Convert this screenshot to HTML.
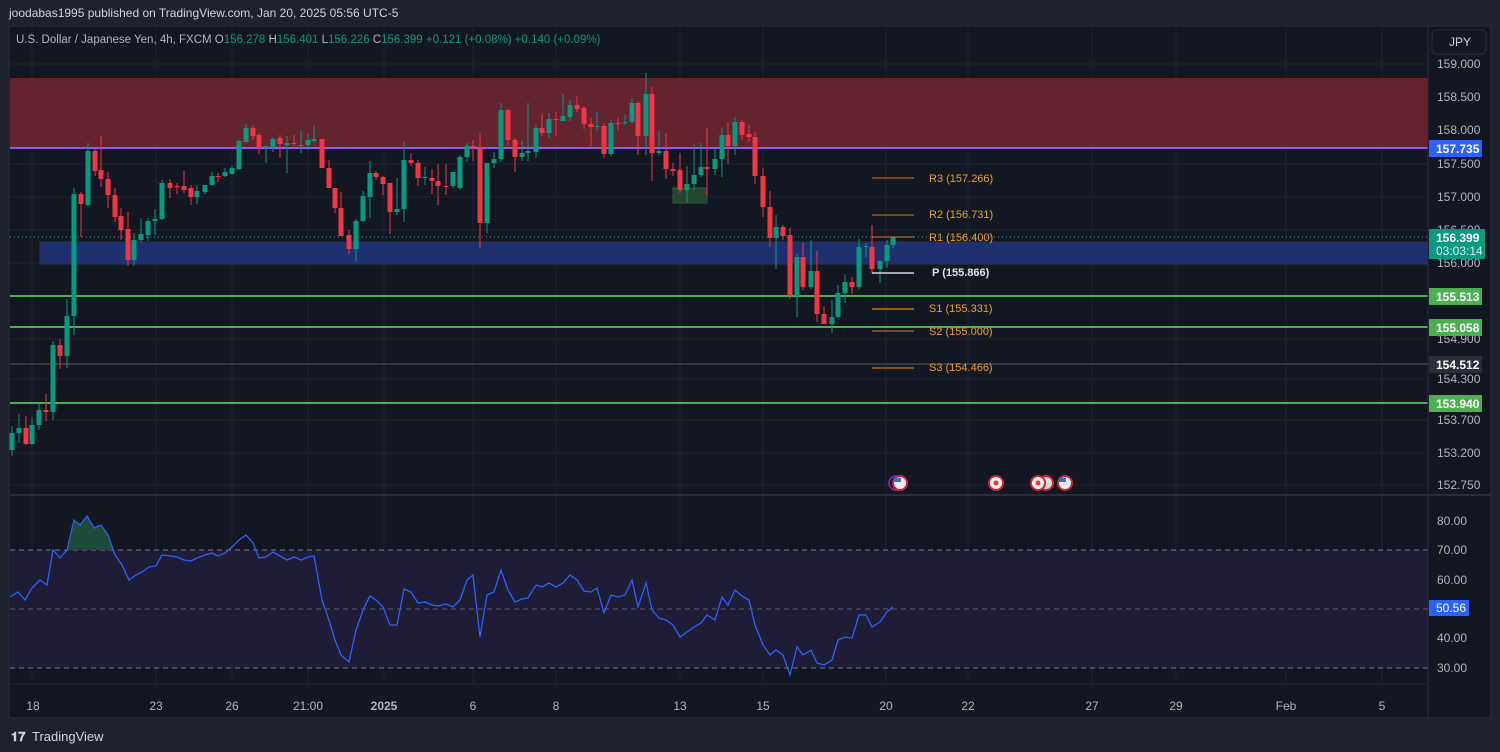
<!DOCTYPE html>
<html><head><meta charset="utf-8">
<style>
html,body{margin:0;padding:0;width:1500px;height:752px;overflow:hidden;background:#1e222d;font-family:"Liberation Sans",sans-serif;}
svg{position:absolute;left:0;top:0}
</style></head><body>
<svg id="s" width="1500" height="752" xmlns="http://www.w3.org/2000/svg" font-family="Liberation Sans, sans-serif">
<rect x="0" y="0" width="1500" height="752" fill="#1e222d"/>
<text x="9" y="17" fill="#d1d4dc" font-size="12">joodabas1995 published on TradingView.com, Jan 20, 2025 05:56 UTC-5</text>
<rect x="9" y="26" width="1482" height="692" fill="#131722" stroke="#2a2e39"/>
<g id="grid" stroke="#1f2330" stroke-width="1"></g>
<!-- zones -->
<rect x="10" y="78" width="1418" height="70" fill="#63232f"/>
<line x1="10" y1="148" x2="1428" y2="148" stroke="#8b5cf6" stroke-width="2"/>
<rect x="40" y="242" width="1388" height="22" fill="#1f3070" stroke="#2a3550"/>
<rect x="673" y="188" width="34" height="15" fill="#25462f" stroke="#2f5a38"/>
<line x1="10" y1="296" x2="1428" y2="296" stroke="#4caf50" stroke-width="2"/>
<line x1="10" y1="327" x2="1428" y2="327" stroke="#4caf50" stroke-width="2"/>
<line x1="10" y1="403" x2="1428" y2="403" stroke="#4caf50" stroke-width="2"/>
<line x1="10" y1="364" x2="1428" y2="364" stroke="#363a45" stroke-width="2"/>
<line x1="10" y1="237" x2="1428" y2="237" stroke="#26a69a" stroke-width="1" stroke-dasharray="1 3"/>
<g id="candles"></g>
<!-- pivots -->
<g font-size="11" fill="#f0a020">
<line x1="872" y1="178" x2="914" y2="178" stroke="#c9801f"/>
<line x1="872" y1="215" x2="914" y2="215" stroke="#c9801f"/>
<line x1="872" y1="237" x2="914" y2="237" stroke="#c9801f"/>
<line x1="872" y1="273" x2="914" y2="273" stroke="#d1d4dc" stroke-width="1.5"/>
<line x1="872" y1="309" x2="914" y2="309" stroke="#9c5c10" stroke-width="2"/>
<line x1="872" y1="331" x2="914" y2="331" stroke="#c9801f"/>
<line x1="872" y1="368" x2="914" y2="368" stroke="#f08c00"/>
<text x="929" y="182">R3 (157.266)</text>
<text x="929" y="218">R2 (156.731)</text>
<text x="929" y="241">R1 (156.400)</text>
<text x="932" y="276" fill="#e0e3eb" font-weight="bold">P (155.866)</text>
<text x="929" y="312">S1 (155.331)</text>
<text x="929" y="335">S2 (155.000)</text>
<text x="929" y="371">S3 (154.466)</text>
</g>
<!-- events -->
<g>
<circle cx="896" cy="483" r="7" fill="none" stroke="#9c27b0" stroke-width="1.5"/>
<circle cx="900" cy="483" r="8" fill="#c62838"/><circle cx="900" cy="483" r="6" fill="#e8eaf0"/><rect x="894" y="478" width="7" height="4" fill="#3b6fd8"/>
<circle cx="996" cy="483" r="8" fill="#c62838"/><circle cx="996" cy="483" r="6" fill="#f0f0f0"/><circle cx="996" cy="483" r="2.5" fill="#e53935"/>
<circle cx="1046" cy="483" r="8" fill="#c62838"/><circle cx="1046" cy="483" r="6" fill="#ddd"/>
<circle cx="1038" cy="483" r="8" fill="#c62838"/><circle cx="1038" cy="483" r="6" fill="#f0f0f0"/><circle cx="1038" cy="483" r="2.5" fill="#e53935"/>
<circle cx="1065" cy="483" r="8" fill="#c62838"/><circle cx="1065" cy="483" r="6" fill="#e8eaf0"/><rect x="1059" y="478" width="7" height="4" fill="#3b6fd8"/>
</g>
<text x="16" y="43" font-size="11.5" fill="#b2b5be">U.S. Dollar / Japanese Yen, 4h, FXCM <tspan>O</tspan><tspan fill="#089981">156.278</tspan> <tspan>H</tspan><tspan fill="#089981">156.401</tspan> <tspan>L</tspan><tspan fill="#089981">156.226</tspan> <tspan>C</tspan><tspan fill="#089981">156.399  +0.121 (+0.08%)  +0.140 (+0.09%)</tspan></text>
<!-- pane separator -->
<line x1="9" y1="495" x2="1491" y2="495" stroke="#2a2e39" stroke-width="2"/>
<!-- RSI -->
<rect x="10" y="550" width="1418" height="118" fill="#1f1c35"/>
<line x1="10" y1="550" x2="1428" y2="550" stroke="#787b86" stroke-dasharray="5 4"/>
<line x1="10" y1="609" x2="1428" y2="609" stroke="#5d606b" stroke-dasharray="5 4"/>
<line x1="10" y1="668" x2="1428" y2="668" stroke="#787b86" stroke-dasharray="5 4"/>
<path d="M67,550 L74,520 L80,525 L87,516 L94,528 L101,525 L108,535 L113,550 Z" fill="#1d4a3a"/>
<polyline id="rsi" fill="none" stroke="#2962ff" stroke-width="1.3"/>
<!-- right axis -->
<line x1="1428" y1="26" x2="1428" y2="718" stroke="#2a2e39"/>
<rect x="1432" y="30" width="54" height="24" rx="4" fill="#131722" stroke="#2a2e39"/>
<text x="1449" y="46" font-size="12" fill="#d1d4dc">JPY</text>
<g id="axis" font-size="12" fill="#b2b5be"></g>
<g font-size="12" font-weight="bold" fill="#fff">
<rect x="1429" y="140" width="53" height="17" fill="#2962ff"/><text x="1436" y="153">157.735</text>
<rect x="1429" y="229" width="56" height="30" fill="#089981"/><text x="1436" y="242">156.399</text><text x="1436" y="255" font-weight="normal" fill="#d8f0ec">03:03:14</text>
<rect x="1429" y="288" width="53" height="17" fill="#4caf50"/><text x="1436" y="301">155.513</text>
<rect x="1429" y="319" width="53" height="17" fill="#4caf50"/><text x="1436" y="332">155.058</text>
<rect x="1429" y="356" width="53" height="17" fill="#2a2e39"/><text x="1436" y="369">154.512</text>
<rect x="1429" y="395" width="53" height="17" fill="#4caf50"/><text x="1436" y="408">153.940</text>
<rect x="1429" y="600" width="40" height="16" fill="#2962ff"/><text x="1436" y="612" font-weight="normal">50.56</text>
</g>
<g id="xaxis" font-size="12" fill="#b2b5be" text-anchor="middle"></g>
<line x1="9" y1="684" x2="1428" y2="684" stroke="#1f2330"/>
<text x="11" y="741" font-size="13" fill="#d1d4dc" font-weight="bold">𝟏𝟕</text>
<text x="32" y="741" font-size="13" fill="#d1d4dc">TradingView</text>
</svg>
<script>
var NS="http://www.w3.org/2000/svg";
function el(p,t,a,txt){var e=document.createElementNS(NS,t);for(var k in a)e.setAttribute(k,a[k]);if(txt)e.textContent=txt;document.getElementById(p).appendChild(e);return e;}
// grid
var vx=[32,156,232,308,384,473,556,680,763,886,968,1092,1176,1286,1382];
vx.forEach(function(x){el("grid","line",{x1:x,y1:26,x2:x,y2:684});});
var hy=[[64,"159.000"],[97,"158.500"],[130,"158.000"],[164,"157.500"],[197,"157.000"],[230,"156.500"],[263,"156.000"],[339,"154.900"],[379,"154.300"],[420,"153.700"],[453,"153.200"],[485,"152.750"]];
hy.forEach(function(h){el("grid","line",{x1:10,y1:h[0],x2:1428,y2:h[0]});el("axis","text",{x:1437,y:h[0]+4},h[1]);});
[[521,"80.00"],[550,"70.00"],[580,"60.00"],[638,"40.00"],[668,"30.00"]].forEach(function(h){el("axis","text",{x:1437,y:h[0]+4},h[1]);});
[[33,"18"],[156,"23"],[232,"26"],[308,"21:00"],[384,"2025"],[473,"6"],[556,"8"],[680,"13"],[763,"15"],[886,"20"],[968,"22"],[1092,"27"],[1176,"29"],[1286,"Feb"],[1382,"5"]].forEach(function(t){el("xaxis","text",{x:t[0],y:710,"font-weight":t[1]=="2025"?"bold":"normal"},t[1]);});
// candles [x,o,c,h,l]
var C=[[12,450,433,426,456],[19,433,428,414,443],[26,428,444,416,445],[32,444,425,417,445],[39,425,410,404,430],[46,410,412,394,421],[53,412,345,341,420],[60,345,356,339,369],[67,356,316,299,368],[74,316,194,188,335],[81,194,204,192,237],[88,205,151,143,206],[95,151,171,149,176],[101,170,179,136,187],[108,179,195,172,208],[115,195,217,188,222],[121,216,230,208,240],[128,229,260,212,266],[134,260,240,233,266],[141,240,234,218,242],[148,235,221,218,241],[155,221,219,209,235],[162,219,183,180,220],[170,183,188,179,198],[177,186,187,183,194],[184,186,190,171,193],[191,188,197,185,205],[197,197,191,185,204],[205,192,185,185,194],[212,185,176,172,186],[218,176,177,173,182],[225,176,172,168,177],[232,174,168,166,175],[239,169,141,140,170],[246,142,128,124,142],[253,128,136,125,140],[259,135,148,133,154],[266,148,146,146,163],[273,147,139,137,152],[280,138,144,135,158],[287,145,143,136,173],[294,143,144,135,146],[301,146,145,131,153],[308,145,140,133,150],[314,141,139,126,143],[322,139,168,139,168],[329,168,188,160,188],[335,188,208,188,213],[341,208,236,192,236],[349,235,249,230,254],[356,249,221,219,262],[363,221,196,191,222],[370,197,173,161,218],[376,173,177,171,180],[383,177,184,176,195],[390,183,212,183,234],[397,212,209,178,215],[404,209,160,141,222],[411,160,163,153,166],[418,163,178,160,186],[425,178,177,167,185],[432,178,181,169,194],[438,181,186,164,205],[446,186,187,164,195],[453,186,172,172,188],[460,188,157,155,190],[467,157,146,143,162],[473,146,148,140,161],[480,148,223,133,248],[487,223,163,163,233],[494,163,159,152,168],[501,159,110,103,162],[508,110,140,109,145],[515,140,157,138,172],[522,157,153,141,161],[528,153,151,103,161],[536,152,128,125,158],[542,128,133,114,136],[549,133,119,113,138],[556,119,120,112,136],[563,121,116,94,120],[570,117,105,100,121],[577,105,109,96,112],[584,108,124,106,129],[591,124,127,118,146],[597,127,126,112,131],[604,126,154,123,158],[611,154,123,120,156],[618,123,124,118,130],[625,123,122,115,125],[632,122,103,98,124],[638,103,136,101,155],[646,136,94,73,155],[652,94,153,87,181],[659,153,151,131,155],[666,151,169,133,179],[673,169,171,163,176],[680,170,190,153,193],[687,190,184,166,202],[694,184,175,144,190],[701,175,167,143,177],[707,167,169,128,195],[715,169,159,148,175],[722,159,135,128,177],[728,135,146,122,164],[735,146,122,117,155],[742,122,135,120,140],[749,134,137,125,142],[755,137,176,132,184],[763,176,207,168,217],[770,207,238,191,247],[776,238,227,215,269],[783,227,236,225,240],[790,235,296,228,299],[797,296,257,254,317],[803,257,287,243,290],[811,287,271,240,289],[817,271,314,251,322],[824,314,324,306,324],[832,324,317,300,333],[838,317,293,285,318],[845,293,282,274,303],[852,282,287,277,294],[859,287,247,239,289],[866,247,246,243,257],[872,247,269,225,273],[880,269,261,260,283],[887,261,245,240,268],[893,245,237,237,248]];
C.forEach(function(c){var up=c[2]<c[1];var col=up?"#089981":"#f23645";var t=Math.min(c[1],c[2]),b=Math.max(c[1],c[2]);
el("candles","line",{x1:c[0],y1:c[3],x2:c[0],y2:c[4],stroke:col,"stroke-width":1});
el("candles","rect",{x:c[0]-2.5,y:t,width:5,height:Math.max(1,b-t),fill:col});});
var R=[10,597,18,592,25,600,32,588,40,580,47,585,53,550,60,558,67,550,74,520,80,525,87,516,94,528,101,525,108,535,115,555,122,565,129,580,136,575,142,572,149,567,156,566,162,555,170,556,177,557,184,560,191,561,197,558,205,555,212,553,218,556,225,553,232,547,239,540,246,535,253,543,259,558,266,557,273,552,280,556,287,560,294,557,301,560,308,557,314,556,322,600,329,620,335,640,341,655,349,662,356,630,363,610,370,596,376,600,383,607,390,625,397,625,404,589,411,592,418,603,425,602,432,605,438,606,446,604,453,607,460,600,467,580,473,575,480,637,487,595,494,592,501,570,508,590,515,602,522,599,528,598,536,585,542,587,549,583,556,587,563,583,570,575,577,580,584,591,591,592,597,588,604,613,611,595,618,597,625,595,632,580,638,607,646,583,652,610,659,618,666,620,673,625,680,637,687,632,694,627,701,623,707,615,715,620,722,597,728,605,735,590,742,596,749,600,755,625,763,645,770,655,776,650,783,655,790,675,797,647,803,655,811,650,817,663,824,665,832,660,838,640,845,637,852,638,859,615,866,615,872,627,880,622,887,612,893,607];
var pts=[];for(var i=0;i<R.length;i+=2)pts.push(R[i]+","+R[i+1]);
document.getElementById("rsi").setAttribute("points",pts.join(" "));
</script>
</body></html>
